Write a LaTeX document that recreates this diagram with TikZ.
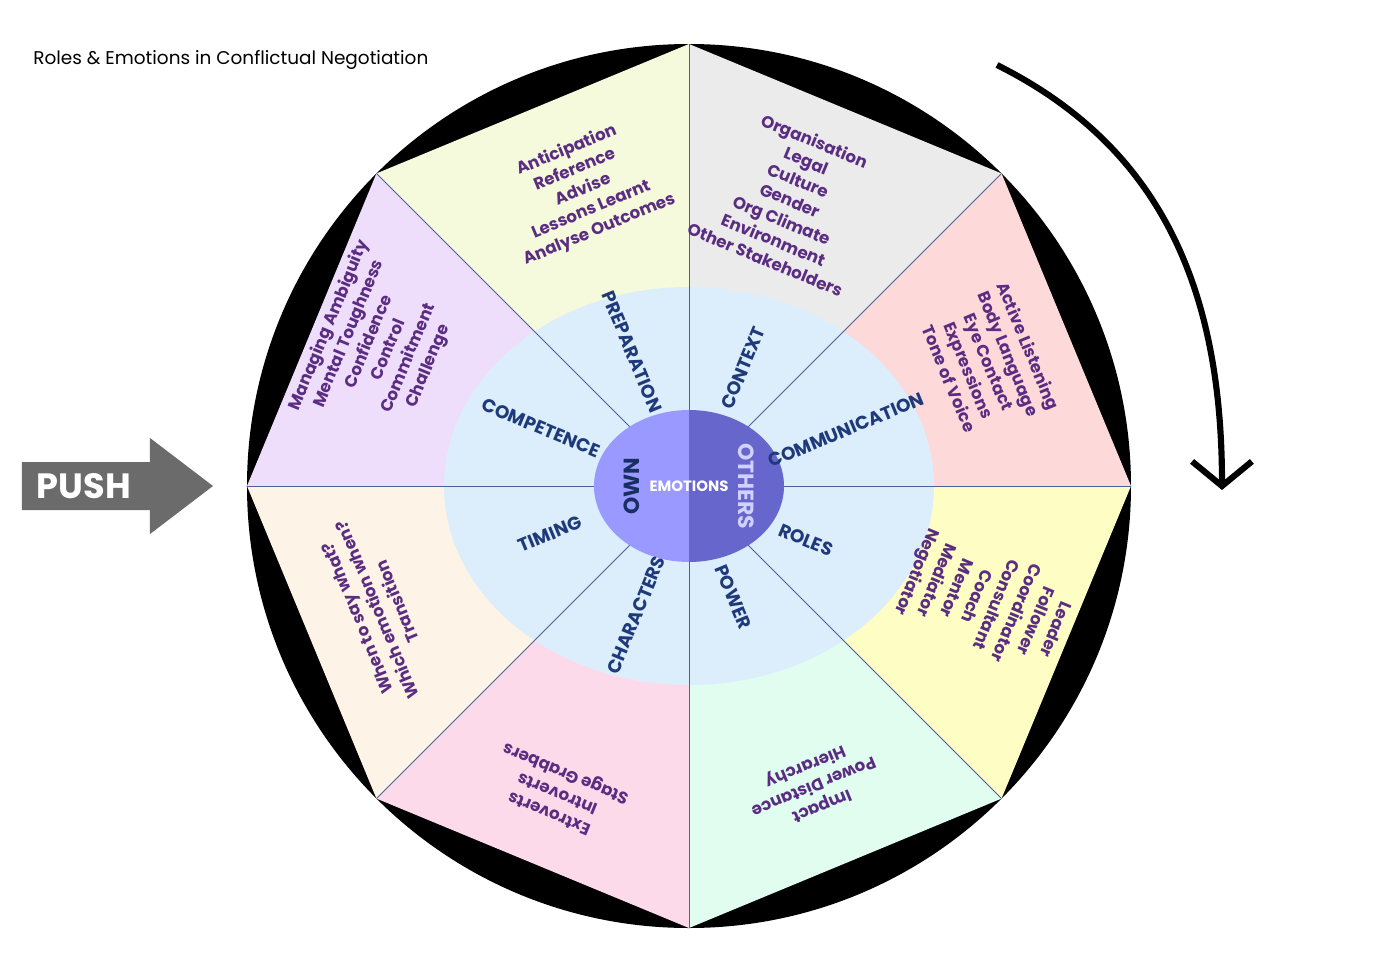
\documentclass[tikz,border=0pt]{standalone}
\usepackage{fontspec}
\setmainfont{Poppins}
\usetikzlibrary{arrows.meta}
\definecolor{txtpurple}{HTML}{5A2D82}
\definecolor{txtnavy}{HTML}{1F3A7A}
\definecolor{ringblue}{HTML}{DCEEFB}
\definecolor{ownblue}{HTML}{9999FF}
\definecolor{othblue}{HTML}{6666CC}
\definecolor{pushgrey}{HTML}{6B6B6B}
\definecolor{secprep}{HTML}{F5FADC}
\definecolor{secctx}{HTML}{EBEBEB}
\definecolor{seccomm}{HTML}{FDD9D9}
\definecolor{secrole}{HTML}{FDFDC4}
\definecolor{secpow}{HTML}{E0FDF0}
\definecolor{secchar}{HTML}{FDDAEA}
\definecolor{sectime}{HTML}{FDF3E6}
\definecolor{seccomp}{HTML}{EEDEFC}
\tikzset{
  item/.style={text=txtpurple,font=\fontsize{9.5}{12.2}\selectfont\bfseries,align=center,inner sep=0pt},
  topic/.style={text=txtnavy,font=\fontsize{10.5}{12}\selectfont\bfseries,inner sep=0pt},
  spoke/.style={draw=txtnavy!80,line width=0.5pt}
}
\begin{document}
\begin{tikzpicture}[x=0.02cm,y=0.02cm]
    \useasboundingbox (-689,-485) rectangle (690,486);
    \fill[black] (0,0) circle (442);
    
    %% sectors
    \fill[secprep] (0,0) -- (90:442) -- (135:442) -- cycle;
    \fill[secctx] (0,0) -- (45:442) -- (90:442) -- cycle;
    \fill[seccomm] (0,0) -- (0:442) -- (45:442) -- cycle;
    \fill[secrole] (0,0) -- (-45:442) -- (0:442) -- cycle;
    \fill[secpow] (0,0) -- (-90:442) -- (-45:442) -- cycle;
    \fill[secchar] (0,0) -- (-135:442) -- (-90:442) -- cycle;
    \fill[sectime] (0,0) -- (180:442) -- (225:442) -- cycle;
    \fill[seccomp] (0,0) -- (135:442) -- (180:442) -- cycle;
    
    \fill[ringblue] (0,0) ellipse [x radius=245,y radius=199];
    \foreach \a in {0,45,...,315}
      \draw[spoke] (0,0) -- (\a:442);
    
    %% centre
    \fill[ownblue] (0,-76) arc (-90:-270:95 and 76) -- cycle;
    \fill[othblue] (0,-76) arc (-90:90:95 and 76) -- cycle;
    \node (emo) at (0,0) [text=white,font=\fontsize{8.5}{10}\selectfont\bfseries] {EMOTIONS};
    \node (own) at (-57,0) [rotate=90,text=txtnavy!80!black,font=\fontsize{12.5}{15}\selectfont\bfseries] {OWN};
    \node (oth) at (57,0) [rotate=-90,text=ownblue!45,font=\fontsize{12.5}{15}\selectfont\bfseries] {OTHERS};
    
    %% topics
    \node (prep) at (-57,134) [topic,rotate=-67.5] {PREPARATION};
    \node (ctx) at (54,118) [topic,rotate=67.5] {CONTEXT};
    \node (comm) at (157,56) [topic,rotate=22.5] {COMMUNICATION};
    \node (role) at (117,-54) [topic,rotate=-22.5] {ROLES};
    \node (pow) at (44,-111) [topic,rotate=-67.5] {POWER};
    \node (char) at (-53,-129) [topic,rotate=67.5] {CHARACTERS};
    \node (time) at (-139,-48) [topic,rotate=22.5] {TIMING};
    \node (comp) at (-148,58) [topic,rotate=-22.5] {COMPETENCE};
    
    %% items
    \node (prepit) at (-106,296) [item,rotate=22.5] {Anticipation\\Reference\\Advise\\Lessons Learnt\\Analyse Outcomes};
    \node (ctxit) at (101,286) [item,rotate=-22.5] {Organisation\\Legal\\Culture\\Gender\\Org Climate\\Environment\\Other Stakeholders};
    \node (commit) at (300,124) [item,rotate=-67.5] {Active Listening\\Body Language\\Eye Contact\\Expressions\\Tone of Voice};
    \node (roleit) at (296,-114) [item,rotate=-112.5] {Leader\\Follower\\Coordinator\\Consultant\\Coach\\Mentor\\Mediator\\Negotiator};
    \node (powit) at (124,-299) [item,rotate=-157.5] {Impact\\Power Distance\\Hierarchy};
    \node (charit) at (-131,-306) [item,rotate=157.5] {Extroverts\\Introverts\\Stage Grabbers};
    \node (timeit) at (-312,-124) [item,rotate=112.5] {When to say what?\\Which emotion when?\\Transition};
    \node (compit) at (-310,140) [item,rotate=67.5] {Managing Ambiguity\\Mental Toughness\\Confidence\\Control\\Commitment\\Challenge};
    
    %% title and push
    \node (title) at (-656,426) [anchor=west,inner sep=0pt,font=\fontsize{10.5}{13}\selectfont] {Roles \& Emotions in Conflictual Negotiation};
    \fill[pushgrey] (-667,24) -- (-539,24) -- (-539,48) -- (-476,0) -- (-539,-48) -- (-539,-24) -- (-667,-24) -- cycle;
    \node (push) at (-605,0) [text=white,font=\fontsize{20}{24}\selectfont\bfseries] {PUSH};
    
    %% turn arrow
    \coordinate (rotA) at (308,421);
    \coordinate (rotB) at (533,-4);
    \draw[line width=3.5pt,-{Straight Barb[length=14pt,width=34pt,line width=3.5pt]}] (rotA) .. controls (470,340) and (533,200) .. (rotB);
\end{tikzpicture}
\end{document}
